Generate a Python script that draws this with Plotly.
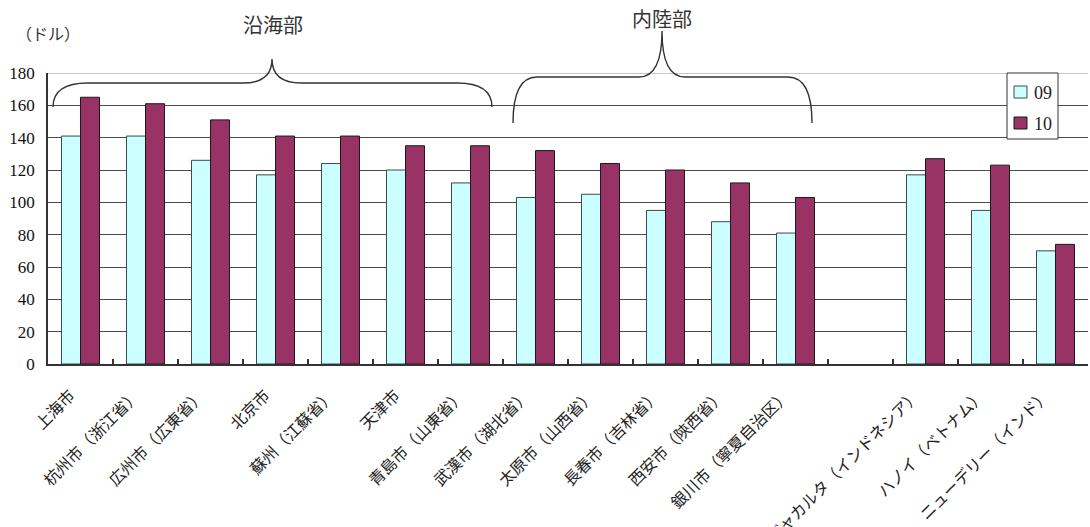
import plotly.graph_objects as go

# 都市別データ（ドル）
cities = [
    "上海市", "杭州市（浙江省）", "広州市（広東省）", "北京市", "蘇州（江蘇省）",
    "天津市", "青島市（山東省）", "武漢市（湖北省）", "太原市（山西省）",
    "長春市（吉林省）", "西安市（陝西省）", "銀川市（寧夏自治区）", " ",
    "ジャカルタ（インドネシア）", "ハノイ（ベトナム）", "ニューデリー（インド）",
]
values_09 = [141, 141, 126, 117, 124, 120, 112, 103, 105, 95, 88, 81, None, 117, 95, 70]
values_10 = [165, 161, 151, 141, 141, 135, 135, 132, 124, 120, 112, 103, None, 127, 123, 74]
series_names = ["09", "10"]
y_ticks = [0, 20, 40, 60, 80, 100, 120, 140, 160, 180]

W, H = 1090, 527
ML, MR, MT, MB = 48, 2, 73, 163
PW, PH = W - ML - MR, H - MT - MB

LATIN = "Liberation Serif, Noto Sans CJK JP, serif"
CJK = "Noto Sans CJK JP, sans-serif"
INK = "#222222"
FILL_09, EDGE_09 = "#CCFFFF", "#3a4a4a"
FILL_10, EDGE_10 = "#993366", "#1a1a1a"


def px(x, y):
    """Pixel position on the page -> paper coordinates."""
    return (x - ML) / PW, (MT + PH - y) / PH


def brace_path(x0, x1, xc, y_end, y_bar, y_tip, end_w, cusp_w):
    """Curly brace opening downward, drawn as a quadratic-curve path."""
    pts = [
        ("M", [(x0, y_end)]),
        ("Q", [(x0, y_bar), (x0 + end_w, y_bar)]),
        ("L", [(xc - cusp_w, y_bar)]),
        ("Q", [(xc, y_bar), (xc, y_tip)]),
        ("Q", [(xc, y_bar), (xc + cusp_w, y_bar)]),
        ("L", [(x1 - end_w, y_bar)]),
        ("Q", [(x1, y_bar), (x1, y_end)]),
    ]
    out = []
    for cmd, coords in pts:
        s = " ".join("%.5f,%.5f" % px(a, b) for a, b in coords)
        out.append(cmd + s)
    return " ".join(out)


def rect(x0, y0, x1, y1, fill, edge, width=1):
    a, b = px(x0, y1)
    c, d = px(x1, y0)
    return dict(type="rect", xref="paper", yref="paper", x0=a, y0=b, x1=c, y1=d,
                fillcolor=fill, line=dict(color=edge, width=width), layer="above")


fig = go.Figure()
fig.add_trace(go.Bar(
    x=cities, y=values_09, name=series_names[0],
    marker=dict(color=FILL_09, line=dict(color=EDGE_09, width=1)),
))
fig.add_trace(go.Bar(
    x=cities, y=values_10, name=series_names[1],
    marker=dict(color=FILL_10, line=dict(color=EDGE_10, width=1)),
))

shapes = [
    # light top border of the plot area
    dict(type="line", xref="paper", yref="y", x0=0, x1=1, y0=180, y1=180,
         line=dict(color="#b4b4b4", width=1.5), layer="between"),
    # 沿海部 brace
    dict(type="path", xref="paper", yref="paper",
         path=brace_path(53, 492, 272, 107, 83, 59, 35, 29),
         line=dict(color="#333333", width=1.4)),
    # 内陸部 brace
    dict(type="path", xref="paper", yref="paper",
         path=brace_path(513, 812, 662, 123, 77, 31, 24, 23),
         line=dict(color="#333333", width=1.4)),
    # legend box and swatches
    rect(1007, 73, 1058, 139, "white", "#333333", 1),
    rect(1014, 86, 1027, 98, FILL_09, EDGE_09, 1),
    rect(1014, 117, 1027, 129, FILL_10, EDGE_10, 1),
]

annotations = []
for text, (x, y), size in [
    ("（ドル）", (48, 33), 16),
    ("沿海部", (273, 25), 20),
    ("内陸部", (662, 18), 20),
]:
    ax, ay = px(x, y)
    annotations.append(dict(
        text=text, x=ax, y=ay, xref="paper", yref="paper",
        xanchor="center", yanchor="middle", showarrow=False,
        font=dict(family=CJK, size=size, color="#333333"),
    ))
for name, y in zip(series_names, (93, 124)):
    ax, ay = px(1032, y)
    annotations.append(dict(
        text=name, x=ax, y=ay, xref="paper", yref="paper",
        xanchor="left", yanchor="middle", showarrow=False,
        font=dict(family=LATIN, size=18, color=INK),
    ))

fig.update_layout(
    width=W, height=H,
    margin=dict(l=ML, r=MR, t=MT, b=MB, pad=0),
    paper_bgcolor="white", plot_bgcolor="white",
    barmode="group", bargap=0.415, bargroupgap=0,
    shapes=shapes, annotations=annotations,
    showlegend=False,
    xaxis=dict(
        type="category", categoryorder="array", categoryarray=cities,
        range=[-0.5, len(cities) - 0.5], automargin=False,
        showline=True, linecolor="#333333", linewidth=1.5,
        ticks="inside", tickson="boundaries", ticklen=5,
        tickcolor="#333333", tickwidth=1.5,
        tickangle=-45, ticklabelstandoff=14, ticklabelshift=-10,
        tickfont=dict(family=CJK, size=16, color=INK),
        showgrid=False, fixedrange=True,
    ),
    yaxis=dict(
        range=[0, 180], tickvals=y_ticks, automargin=False,
        showline=True, linecolor="#333333", linewidth=1.5,
        showgrid=True, gridcolor="#4a4a4a", gridwidth=1.3,
        zeroline=False, ticks="", ticklabelstandoff=8,
        tickfont=dict(family=LATIN, size=17, color="#111111"),
        fixedrange=True,
    ),
)

fig.write_html("out.html")
